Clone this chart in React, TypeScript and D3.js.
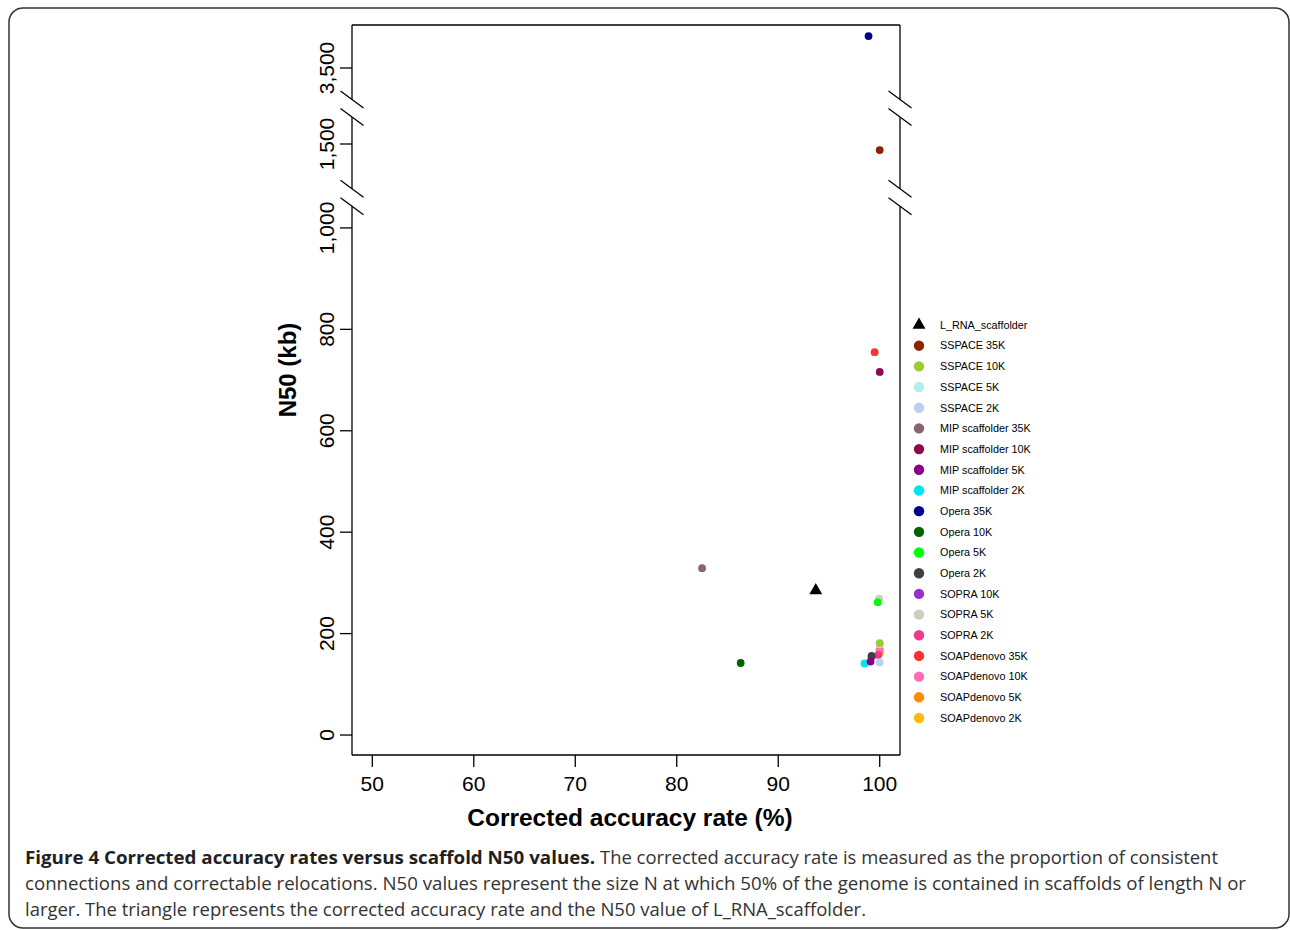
import * as d3 from "d3"

// legend order
const series = [
  "L_RNA_scaffolder",
  "SSPACE 35K",
  "SSPACE 10K",
  "SSPACE 5K",
  "SSPACE 2K",
  "MIP scaffolder 35K",
  "MIP scaffolder 10K",
  "MIP scaffolder 5K",
  "MIP scaffolder 2K",
  "Opera 35K",
  "Opera 10K",
  "Opera 5K",
  "Opera 2K",
  "SOPRA 10K",
  "SOPRA 5K",
  "SOPRA 2K",
  "SOAPdenovo 35K",
  "SOAPdenovo 10K",
  "SOAPdenovo 5K",
  "SOAPdenovo 2K",
]
const accuracy = [93.7, 100, 100, 100, 100, 82.5, 100, 99.1, 98.5, 98.9, 86.3, 99.8, 99.2, 99.2, 99.95, 99.85, 99.5, 100, 100, 100]
const n50 = [285, 1488, 181, 179, 143, 329, 716, 145, 141, 3563, 142, 262, 156, 155, 269, 158, 755, 169, 162, 166]
const colors = [
  "#000000", "#8B2500", "#9ACD32", "#AEEEEE", "#B9D3EE",
  "#8B636C", "#8B0A50", "#8B008B", "#00E5EE", "#00008B",
  "#006400", "#00FF00", "#404040", "#9932CC", "#CDCDC1",
  "#EE3A8C", "#FF3030", "#FF6EB4", "#FF8C00", "#FFB90F",
]

const xTicks = [50, 60, 70, 80, 90, 100]
const yTicks = [0, 200, 400, 600, 800, 1000, 1500, 3500]
// the y axis is cut twice; each pair is the hidden range in kb
const yBreaks = [
  [1060, 1394.5],
  [1570.4, 3420.5],
]

const captionBold = "Figure 4 Corrected accuracy rates versus scaffold N50 values."
const captionLines = [
  "The corrected accuracy rate is measured as the proportion of consistent",
  "connections and correctable relocations. N50 values represent the size N at which 50% of the genome is contained in scaffolds of length N or",
  "larger. The triangle represents the corrected accuracy rate and the N50 value of L_RNA_scaffolder.",
]

const W = 1290
const H = 930
const left = 352
const right = 900
const top = 25
const bottom = 755
const font = "'Liberation Sans', Arial, sans-serif"

export default function App() {
  const x = d3.scaleLinear().domain([48, 102]).range([left, right])
  const y = d3
    .scaleLinear()
    .domain([-39.4, yBreaks[0][0], yBreaks[0][1], yBreaks[1][0], yBreaks[1][1], 3584.8])
    .range([bottom, 197.5, 197.5, 108.3, 108.3, top])

  const fmt = d3.format(",")
  const breakYs = yBreaks.map((b) => y(b[0]))
  const half = 8.7

  // vertical axis pieces between the cuts
  const stops = [bottom, ...breakYs.flatMap((c) => [c + half, c - half]), top]
  const pieces: [number, number][] = []
  for (let i = 0; i < stops.length; i += 2) pieces.push([stops[i], stops[i + 1]])

  const legendY = d3.scaleLinear().domain([0, series.length - 1]).range([325, 718])
  const tri = d3.symbol(d3.symbolTriangle, 72)()

  const order = d3.range(series.length).reverse()

  return (
    <svg width={W} height={H} style={{ position: "absolute", left: 0, top: 0, background: "#fff" }}>
      <rect x={9} y={8} width={1280} height={920} rx={14} fill="none" stroke="#333" strokeWidth={1.5} />

      {/* frame */}
      <g stroke="#000" strokeWidth={1.3} fill="none">
        <line x1={left} x2={right} y1={top} y2={top} />
        <line x1={left} x2={right} y1={bottom} y2={bottom} />
        {pieces.map(([a, b], i) => (
          <g key={i}>
            <line x1={left} x2={left} y1={a} y2={b} />
            <line x1={right} x2={right} y1={a} y2={b} />
          </g>
        ))}
        {breakYs.map((c, i) =>
          [left, right].map((ax) =>
            [c - half, c + half].map((yc, j) => (
              <line key={`${i}-${ax}-${j}`} x1={ax - 11.5} y1={yc - 8.5} x2={ax + 11.5} y2={yc + 8.5} />
            ))
          )
        )}
      </g>

      {/* y axis */}
      <g fontFamily={font} fontSize={21}>
        {yTicks.map((t) => (
          <g key={t}>
            <line x1={left - 12} x2={left} y1={y(t)} y2={y(t)} stroke="#000" strokeWidth={1.3} />
            <text transform={`translate(334,${y(t)}) rotate(-90)`} textAnchor="middle">
              {fmt(t)}
            </text>
          </g>
        ))}
        <text transform={`translate(296,370) rotate(-90)`} textAnchor="middle" fontWeight="bold" fontSize={24}>
          N50 (kb)
        </text>
      </g>

      {/* x axis */}
      <g fontFamily={font} fontSize={21}>
        {xTicks.map((t) => (
          <g key={t}>
            <line x1={x(t)} x2={x(t)} y1={bottom} y2={bottom + 12} stroke="#000" strokeWidth={1.3} />
            <text x={x(t)} y={791} textAnchor="middle">
              {t}
            </text>
          </g>
        ))}
        <text x={630} y={826} textAnchor="middle" fontWeight="bold" fontSize={24.5}>
          Corrected accuracy rate (%)
        </text>
      </g>

      {/* points */}
      <g>
        {order.map((i) =>
          i === 0 ? (
            <path key={i} d={tri ?? ""} transform={`translate(${x(accuracy[i])},${y(n50[i])})`} fill={colors[i]} />
          ) : (
            <circle key={i} cx={x(accuracy[i])} cy={y(n50[i])} r={3.9} fill={colors[i]} />
          )
        )}
      </g>

      {/* legend */}
      <g fontFamily={font} fontSize={10.8}>
        {series.map((s, i) => (
          <g key={s} transform={`translate(0,${legendY(i)})`}>
            {i === 0 ? (
              <path d={tri ?? ""} transform="translate(919,0)" fill={colors[i]} />
            ) : (
              <circle cx={919} cy={0} r={5.2} fill={colors[i]} />
            )}
            <text x={940} y={3.8}>
              {s}
            </text>
          </g>
        ))}
      </g>

      {/* caption */}
      <g fontFamily="'Open Sans', sans-serif" fontSize={18}>
        <text x={25} y={864} fontWeight="bold" fill="#231f20" textLength={570} lengthAdjust="spacingAndGlyphs">
          {captionBold}
        </text>
        <text x={600} y={864} fill="#333" textLength={618} lengthAdjust="spacingAndGlyphs">
          {captionLines[0]}
        </text>
        <text x={25} y={890} fill="#333" textLength={1221} lengthAdjust="spacingAndGlyphs">
          {captionLines[1]}
        </text>
        <text x={25} y={916} fill="#333" textLength={841} lengthAdjust="spacingAndGlyphs">
          {captionLines[2]}
        </text>
      </g>
    </svg>
  )
}
